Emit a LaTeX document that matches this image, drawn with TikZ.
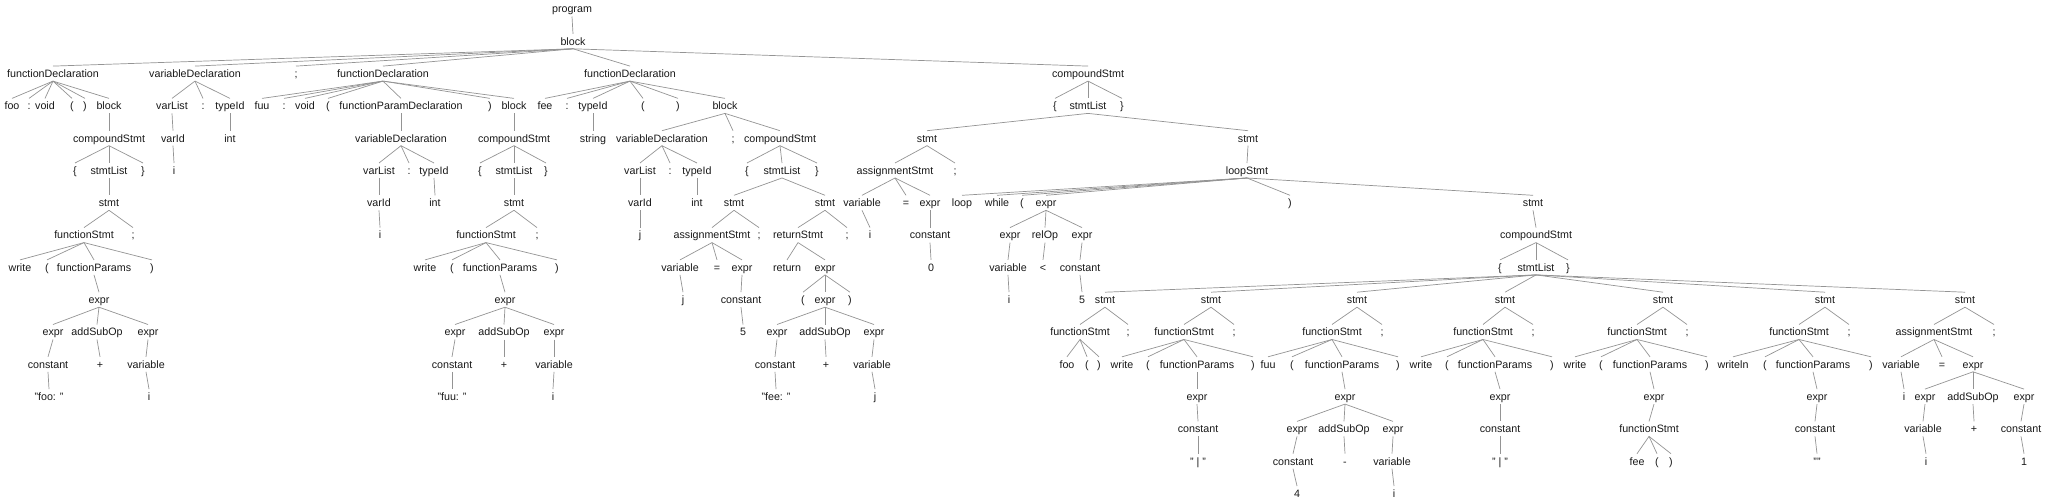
\documentclass[tikz,border=0pt]{standalone}
\usepackage{fontspec}
\setmainfont{Liberation Sans}
\usepackage{tikz}
\usetikzlibrary{positioning}
\definecolor{tokText}{rgb}{0.1,0.1,0.1}
\definecolor{treeLine}{rgb}{0.58,0.58,0.58}
\tikzset{
  tok/.style={
    inner xsep=0pt,
    inner ysep=3.5pt,
    text height=7.6pt,
    text depth=0pt,
    font=\fontsize{10.7}{12}\selectfont,
    text=tokText
  },
  treeedge/.style={
    draw=treeLine,
    line width=0.7pt
  }
}
\begin{document}
\begin{tikzpicture}[x=1pt, y=-32.3pt]
  \path[use as bounding box, fill=white] (0,-0.2786) rectangle (2048,15.2012);
  % levels 0 to 2
  \node[tok] (prog) at (572,0) {program};
  \node[tok] (blk) at (573,1) {block};
  \node[tok] (fdA) at (53,2) {functionDeclaration};
  \node[tok] (vdA) at (195,2) {variableDeclaration};
  \node[tok] (scA) at (296,2) {;};
  \node[tok] (fdB) at (383,2) {functionDeclaration};
  \node[tok] (fdC) at (630,2) {functionDeclaration};
  \node[tok] (csM) at (1088,2) {compoundStmt};
  % level 3
  \node[tok] (fooA) at (12,3) {foo};
  \node[tok] (cA) at (29,3) {:};
  \node[tok] (voidA) at (45,3) {void};
  \node[tok] (lpA) at (72,3) {(};
  \node[tok] (rpA) at (85,3) {)};
  \node[tok] (blkA) at (109,3) {block};
  \node[tok] (vlV) at (172,3) {varList};
  \node[tok] (cV) at (203,3) {:};
  \node[tok] (tyV) at (230,3) {typeId};
  \node[tok] (fuuB) at (262,3) {fuu};
  \node[tok] (cB) at (284,3) {:};
  \node[tok] (voidB) at (305,3) {void};
  \node[tok] (lpB) at (328,3) {(};
  \node[tok] (fpdB) at (401,3) {functionParamDeclaration};
  \node[tok] (rpB) at (490,3) {)};
  \node[tok] (blkB) at (514,3) {block};
  \node[tok] (feeC) at (545,3) {fee};
  \node[tok] (cC) at (567,3) {:};
  \node[tok] (tyC) at (593,3) {typeId};
  \node[tok] (lpC) at (643,3) {(};
  \node[tok] (rpC) at (678,3) {)};
  \node[tok] (blkC) at (725,3) {block};
  \node[tok] (lbM) at (1055,3) {\{};
  \node[tok] (slM) at (1088,3) {stmtList};
  \node[tok] (rbM) at (1122,3) {\}};
  % level 4
  \node[tok] (csA) at (109,4) {compoundStmt};
  \node[tok] (vidV) at (173,4) {varId};
  \node[tok] (intV) at (230,4) {int};
  \node[tok] (vdB) at (401,4) {variableDeclaration};
  \node[tok] (csB) at (514,4) {compoundStmt};
  \node[tok] (strC) at (593,4) {string};
  \node[tok] (vdC) at (662,4) {variableDeclaration};
  \node[tok] (scC) at (733,4) {;};
  \node[tok] (csC) at (780,4) {compoundStmt};
  \node[tok] (stM1) at (927,4) {stmt};
  \node[tok] (stM2) at (1248,4) {stmt};
  % level 5
  \node[tok] (lbA) at (75,5) {\{};
  \node[tok] (slA) at (109,5) {stmtList};
  \node[tok] (rbA) at (143,5) {\}};
  \node[tok] (iV) at (174,5) {i};
  \node[tok] (vlB) at (379,5) {varList};
  \node[tok] (cB2) at (409,5) {:};
  \node[tok] (tyB) at (434,5) {typeId};
  \node[tok] (lbB) at (480,5) {\{};
  \node[tok] (slB) at (514,5) {stmtList};
  \node[tok] (rbB) at (546,5) {\}};
  \node[tok] (vlC) at (640,5) {varList};
  \node[tok] (cC2) at (670,5) {:};
  \node[tok] (tyC2) at (697,5) {typeId};
  \node[tok] (lbC) at (747,5) {\{};
  \node[tok] (slC) at (782,5) {stmtList};
  \node[tok] (rbC) at (817,5) {\}};
  \node[tok] (asM) at (895,5) {assignmentStmt};
  \node[tok] (scM1) at (955,5) {;};
  \node[tok] (lsM) at (1247,5) {loopStmt};
  % level 6
  \node[tok] (stA) at (109,6) {stmt};
  \node[tok] (vidB) at (379,6) {varId};
  \node[tok] (intB) at (435,6) {int};
  \node[tok] (stB) at (514,6) {stmt};
  \node[tok] (vidC) at (640,6) {varId};
  \node[tok] (intC) at (697,6) {int};
  \node[tok] (stC1) at (734,6) {stmt};
  \node[tok] (stC2) at (825,6) {stmt};
  \node[tok] (varM) at (862,6) {variable};
  \node[tok] (eqM) at (906,6) {=};
  \node[tok] (exM) at (930,6) {expr};
  \node[tok] (loopK) at (962,6) {loop};
  \node[tok] (whK) at (997,6) {while};
  \node[tok] (lpK) at (1022,6) {(};
  \node[tok] (exK) at (1046,6) {expr};
  \node[tok] (rpK) at (1290,6) {)};
  \node[tok] (stK) at (1533,6) {stmt};
  % level 7
  \node[tok] (fsA) at (84,7) {functionStmt};
  \node[tok] (scA2) at (133,7) {;};
  \node[tok] (iB) at (380,7) {i};
  \node[tok] (fsB) at (486,7) {functionStmt};
  \node[tok] (scB2) at (537,7) {;};
  \node[tok] (jC) at (640,7) {j};
  \node[tok] (asC) at (712,7) {assignmentStmt};
  \node[tok] (scC1) at (759,7) {;};
  \node[tok] (rsC) at (798,7) {returnStmt};
  \node[tok] (scC2) at (847,7) {;};
  \node[tok] (iM) at (870,7) {i};
  \node[tok] (conM) at (930,7) {constant};
  \node[tok] (exK1) at (1010,7) {expr};
  \node[tok] (relK) at (1045,7) {relOp};
  \node[tok] (exK2) at (1082,7) {expr};
  \node[tok] (csK) at (1536,7) {compoundStmt};
  % level 8
  \node[tok] (wrA) at (20,8) {write};
  \node[tok] (lpA2) at (47,8) {(};
  \node[tok] (fpA) at (94,8) {functionParams};
  \node[tok] (rpA2) at (152,8) {)};
  \node[tok] (wrB) at (425,8) {write};
  \node[tok] (lpB2) at (452,8) {(};
  \node[tok] (fpB) at (500,8) {functionParams};
  \node[tok] (rpB2) at (557,8) {)};
  \node[tok] (varC) at (680,8) {variable};
  \node[tok] (eqC) at (717,8) {=};
  \node[tok] (exC) at (742,8) {expr};
  \node[tok] (retC) at (787,8) {return};
  \node[tok] (exC2) at (825,8) {expr};
  \node[tok] (zeroM) at (931,8) {0};
  \node[tok] (varK) at (1008,8) {variable};
  \node[tok] (ltK) at (1043,8) {<};
  \node[tok] (conK) at (1080,8) {constant};
  \node[tok] (lbK) at (1500,8) {\{};
  \node[tok] (slK) at (1536,8) {stmtList};
  \node[tok] (rbK) at (1568,8) {\}};
  % level 9
  \node[tok] (exA) at (99,9) {expr};
  \node[tok] (exB) at (505,9) {expr};
  \node[tok] (jC2) at (683,9) {j};
  \node[tok] (conC) at (741,9) {constant};
  \node[tok] (lpC2) at (803,9) {(};
  \node[tok] (exC3) at (825,9) {expr};
  \node[tok] (rpC2) at (850,9) {)};
  \node[tok] (iK) at (1009,9) {i};
  \node[tok] (fvK) at (1082,9) {5};
  \node[tok] (s1) at (1105,9) {stmt};
  \node[tok] (s2) at (1211,9) {stmt};
  \node[tok] (s3) at (1357,9) {stmt};
  \node[tok] (s4) at (1505,9) {stmt};
  \node[tok] (s5) at (1663,9) {stmt};
  \node[tok] (s6) at (1825,9) {stmt};
  \node[tok] (s7) at (1965,9) {stmt};
  % level 10
  \node[tok] (exA1) at (53,10) {expr};
  \node[tok] (adA) at (97,10) {addSubOp};
  \node[tok] (exA2) at (148,10) {expr};
  \node[tok] (exB1) at (455,10) {expr};
  \node[tok] (adB) at (504,10) {addSubOp};
  \node[tok] (exB2) at (554,10) {expr};
  \node[tok] (fvC) at (743,10) {5};
  \node[tok] (exC4) at (777,10) {expr};
  \node[tok] (adC) at (825,10) {addSubOp};
  \node[tok] (exC5) at (874,10) {expr};
  \node[tok] (fs1) at (1080,10) {functionStmt};
  \node[tok] (sc1) at (1128,10) {;};
  \node[tok] (fs2) at (1184,10) {functionStmt};
  \node[tok] (sc2) at (1234,10) {;};
  \node[tok] (fs3) at (1332,10) {functionStmt};
  \node[tok] (sc3) at (1382,10) {;};
  \node[tok] (fs4) at (1483,10) {functionStmt};
  \node[tok] (sc4) at (1533,10) {;};
  \node[tok] (fs5) at (1637,10) {functionStmt};
  \node[tok] (sc5) at (1687,10) {;};
  \node[tok] (fs6) at (1799,10) {functionStmt};
  \node[tok] (sc6) at (1849,10) {;};
  \node[tok] (as7) at (1934,10) {assignmentStmt};
  \node[tok] (sc7) at (1994,10) {;};
  % level 11
  \node[tok] (conA) at (48,11) {constant};
  \node[tok] (plA) at (100,11) {+};
  \node[tok] (varA) at (146,11) {variable};
  \node[tok] (conB) at (452,11) {constant};
  \node[tok] (plB) at (504,11) {+};
  \node[tok] (varB) at (554,11) {variable};
  \node[tok] (conC2) at (775,11) {constant};
  \node[tok] (plC) at (826,11) {+};
  \node[tok] (varC2) at (872,11) {variable};
  \node[tok] (foo1) at (1067,11) {foo};
  \node[tok] (lp1) at (1087,11) {(};
  \node[tok] (rp1) at (1099,11) {)};
  \node[tok] (wr2) at (1122,11) {write};
  \node[tok] (lp2) at (1148,11) {(};
  \node[tok] (fp2) at (1197,11) {functionParams};
  \node[tok] (rp2) at (1253,11) {)};
  \node[tok] (fuu3) at (1268,11) {fuu};
  \node[tok] (lp3) at (1292,11) {(};
  \node[tok] (fp3) at (1342,11) {functionParams};
  \node[tok] (rp3) at (1398,11) {)};
  \node[tok] (wr4) at (1421,11) {write};
  \node[tok] (lp4) at (1447,11) {(};
  \node[tok] (fp4) at (1495,11) {functionParams};
  \node[tok] (rp4) at (1552,11) {)};
  \node[tok] (wr5) at (1575,11) {write};
  \node[tok] (lp5) at (1601,11) {(};
  \node[tok] (fp5) at (1650,11) {functionParams};
  \node[tok] (rp5) at (1707,11) {)};
  \node[tok] (wl6) at (1733,11) {writeln};
  \node[tok] (lp6) at (1765,11) {(};
  \node[tok] (fp6) at (1813,11) {functionParams};
  \node[tok] (rp6) at (1871,11) {)};
  \node[tok] (var7) at (1901,11) {variable};
  \node[tok] (eq7) at (1942,11) {=};
  \node[tok] (ex7) at (1973,11) {expr};
  % level 12
  \node[tok] (fooS) at (49,12) {"foo: "};
  \node[tok] (iA) at (149,12) {i};
  \node[tok] (fuuS) at (452,12) {"fuu: "};
  \node[tok] (iB2) at (553,12) {i};
  \node[tok] (feeS) at (776,12) {"fee: "};
  \node[tok] (jC3) at (875,12) {j};
  \node[tok] (ex2) at (1197,12) {expr};
  \node[tok] (ex3) at (1345,12) {expr};
  \node[tok] (ex4) at (1500,12) {expr};
  \node[tok] (ex5) at (1654,12) {expr};
  \node[tok] (ex6) at (1817,12) {expr};
  \node[tok] (i7) at (1904,12) {i};
  \node[tok] (ex71) at (1925,12) {expr};
  \node[tok] (ad7) at (1973,12) {addSubOp};
  \node[tok] (ex72) at (2024,12) {expr};
  % level 13
  \node[tok] (con2) at (1198,13) {constant};
  \node[tok] (ex31) at (1297,13) {expr};
  \node[tok] (ad3) at (1344,13) {addSubOp};
  \node[tok] (ex32) at (1393,13) {expr};
  \node[tok] (con4) at (1500,13) {constant};
  \node[tok] (fs5b) at (1649,13) {functionStmt};
  \node[tok] (con6) at (1815,13) {constant};
  \node[tok] (var71) at (1923,13) {variable};
  \node[tok] (pl7) at (1974,13) {+};
  \node[tok] (con72) at (2021,13) {constant};
  % levels 14 and 15
  \node[tok] (bar2) at (1198,14) {" | "};
  \node[tok] (con31) at (1293,14) {constant};
  \node[tok] (mn3) at (1345,14) {-};
  \node[tok] (var32) at (1392,14) {variable};
  \node[tok] (bar4) at (1500,14) {" | "};
  \node[tok] (fee5) at (1637,14) {fee};
  \node[tok] (lp5b) at (1657,14) {(};
  \node[tok] (rp5b) at (1671,14) {)};
  \node[tok] (emp6) at (1817,14) {""};
  \node[tok] (i71) at (1926,14) {i};
  \node[tok] (one7) at (2024,14) {1};
  \node[tok] (four3) at (1297,15) {4};
  \node[tok] (i32) at (1394,15) {i};
  % parent/child links
  \foreach \p/\c in {prog/blk, blk/fdA, blk/vdA, blk/scA, blk/fdB, blk/fdC, blk/csM,
      fdA/fooA, fdA/cA, fdA/voidA, fdA/lpA, fdA/rpA, fdA/blkA,
      blkA/csA, csA/lbA, csA/slA, csA/rbA, slA/stA, stA/fsA, stA/scA2,
      fsA/wrA, fsA/lpA2, fsA/fpA, fsA/rpA2, fpA/exA, exA/exA1, exA/adA, exA/exA2,
      exA1/conA, adA/plA, exA2/varA, conA/fooS, varA/iA,
      vdA/vlV, vdA/cV, vdA/tyV, vlV/vidV, tyV/intV, vidV/iV,
      fdB/fuuB, fdB/cB, fdB/voidB, fdB/lpB, fdB/fpdB, fdB/rpB, fdB/blkB,
      fpdB/vdB, vdB/vlB, vdB/cB2, vdB/tyB, vlB/vidB, tyB/intB, vidB/iB,
      blkB/csB, csB/lbB, csB/slB, csB/rbB, slB/stB, stB/fsB, stB/scB2,
      fsB/wrB, fsB/lpB2, fsB/fpB, fsB/rpB2, fpB/exB, exB/exB1, exB/adB, exB/exB2,
      exB1/conB, adB/plB, exB2/varB, conB/fuuS, varB/iB2,
      fdC/feeC, fdC/cC, fdC/tyC, fdC/lpC, fdC/rpC, fdC/blkC, tyC/strC,
      blkC/vdC, blkC/scC, blkC/csC,
      vdC/vlC, vdC/cC2, vdC/tyC2, vlC/vidC, tyC2/intC, vidC/jC,
      csC/lbC, csC/slC, csC/rbC, slC/stC1, slC/stC2,
      stC1/asC, stC1/scC1, asC/varC, asC/eqC, asC/exC, varC/jC2, exC/conC, conC/fvC,
      stC2/rsC, stC2/scC2, rsC/retC, rsC/exC2, exC2/lpC2, exC2/exC3, exC2/rpC2,
      exC3/exC4, exC3/adC, exC3/exC5, exC4/conC2, adC/plC, exC5/varC2, conC2/feeS, varC2/jC3,
      csM/lbM, csM/slM, csM/rbM, slM/stM1, slM/stM2,
      stM1/asM, stM1/scM1, asM/varM, asM/eqM, asM/exM, varM/iM, exM/conM, conM/zeroM,
      stM2/lsM, lsM/loopK, lsM/whK, lsM/lpK, lsM/exK, lsM/rpK, lsM/stK,
      exK/exK1, exK/relK, exK/exK2, exK1/varK, relK/ltK, exK2/conK, varK/iK, conK/fvK,
      stK/csK, csK/lbK, csK/slK, csK/rbK,
      slK/s1, slK/s2, slK/s3, slK/s4, slK/s5, slK/s6, slK/s7,
      s1/fs1, s1/sc1, fs1/foo1, fs1/lp1, fs1/rp1,
      s2/fs2, s2/sc2, fs2/wr2, fs2/lp2, fs2/fp2, fs2/rp2, fp2/ex2, ex2/con2, con2/bar2,
      s3/fs3, s3/sc3, fs3/fuu3, fs3/lp3, fs3/fp3, fs3/rp3, fp3/ex3,
      ex3/ex31, ex3/ad3, ex3/ex32, ex31/con31, ad3/mn3, ex32/var32, con31/four3, var32/i32,
      s4/fs4, s4/sc4, fs4/wr4, fs4/lp4, fs4/fp4, fs4/rp4, fp4/ex4, ex4/con4, con4/bar4,
      s5/fs5, s5/sc5, fs5/wr5, fs5/lp5, fs5/fp5, fs5/rp5, fp5/ex5,
      ex5/fs5b, fs5b/fee5, fs5b/lp5b, fs5b/rp5b,
      s6/fs6, s6/sc6, fs6/wl6, fs6/lp6, fs6/fp6, fs6/rp6, fp6/ex6, ex6/con6, con6/emp6,
      s7/as7, s7/sc7, as7/var7, as7/eq7, as7/ex7, var7/i7,
      ex7/ex71, ex7/ad7, ex7/ex72, ex71/var71, ad7/pl7, ex72/con72, var71/i71, con72/one7}
    \draw[treeedge] (\p.south) -- (\c.north);
\end{tikzpicture}
\end{document}
